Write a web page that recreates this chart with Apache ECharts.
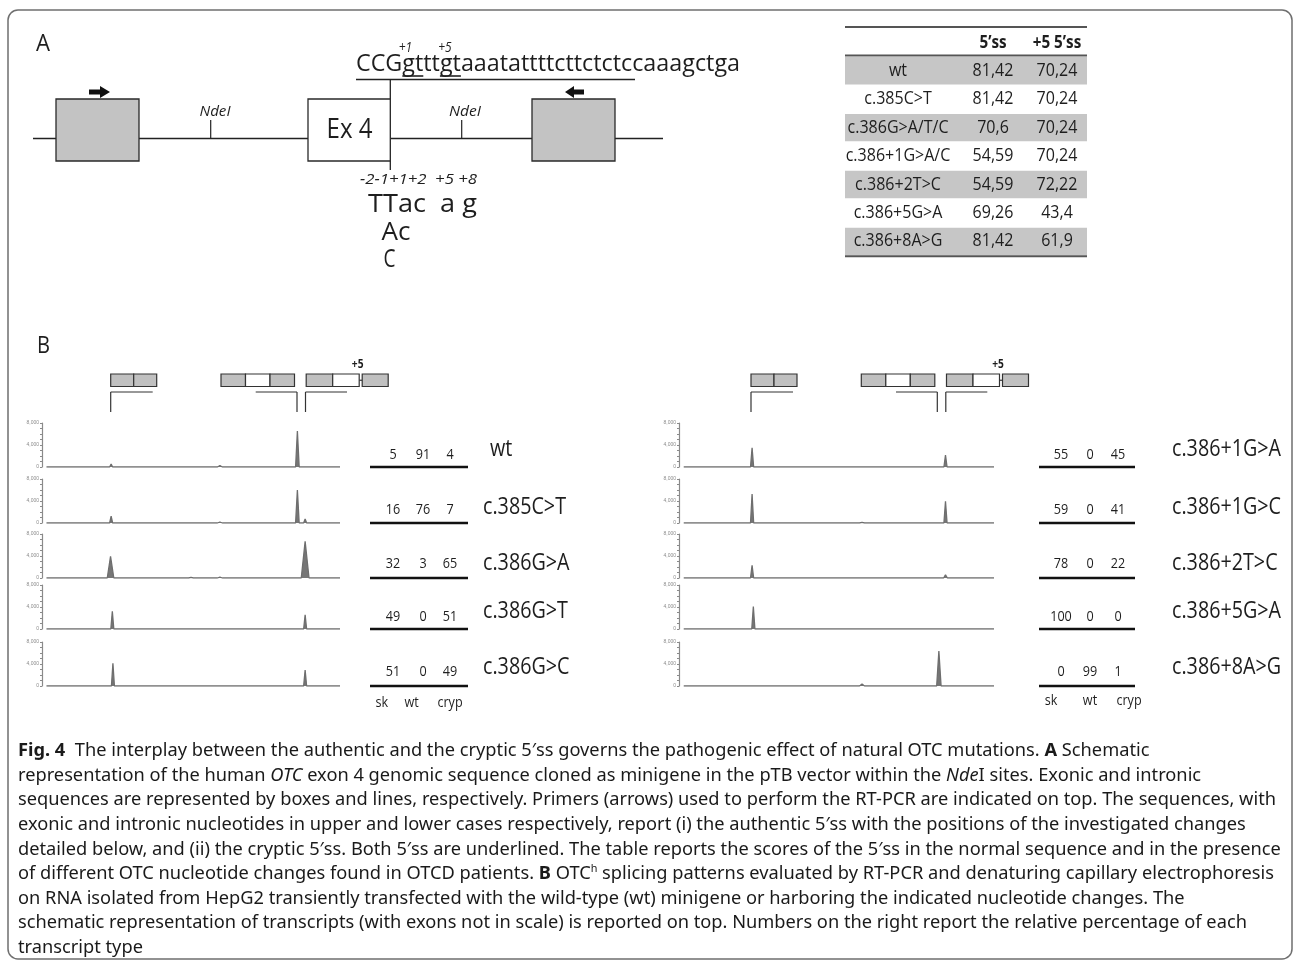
<!DOCTYPE html>
<html>
<head>
<meta charset="utf-8">
<script src="https://cdn.jsdelivr.net/npm/echarts@6/dist/echarts.min.js"></script>
<style>
  html, body { margin: 0; padding: 0; background: #fff; }
  #main { width: 1295px; height: 962px; }
</style>
</head>
<body>
<div id="main"></div>
<script>
// ---------------- data ----------------
// 5' splice-site scores, authentic 5'ss and cryptic +5 5'ss
const tableVariants = ['wt', 'c.385C>T', 'c.386G>A/T/C', 'c.386+1G>A/C', 'c.386+2T>C', 'c.386+5G>A', 'c.386+8A>G'];
const score5ss      = [81.42, 81.42, 70.6, 54.59, 54.59, 69.26, 81.42];
const scorePlus5    = [70.24, 70.24, 70.24, 70.24, 72.22, 43.4, 61.9];

// relative percentage of each transcript (sk, wt, cryp)
const percentColumns = ['sk', 'wt', 'cryp'];
const leftVariants  = ['wt', 'c.385C>T', 'c.386G>A', 'c.386G>T', 'c.386G>C'];
const leftPercents  = [[5, 91, 4], [16, 76, 7], [32, 3, 65], [49, 0, 51], [51, 0, 49]];
const rightVariants = ['c.386+1G>A', 'c.386+1G>C', 'c.386+2T>C', 'c.386+5G>A', 'c.386+8A>G'];
const rightPercents = [[55, 0, 45], [59, 0, 41], [78, 0, 22], [100, 0, 0], [0, 99, 1]];

// capillary electrophoresis peaks: [scan position, height (RFU), half width]
const leftPeaks = [
  [[23.2, 550, 0.5], [59.7, 270, 0.8], [85.7, 6550, 0.6], [88.3, 360, 0.5]],
  [[23.2, 1270, 0.5], [59.7, 180, 0.8], [85.7, 6000, 0.6], [88.3, 730, 0.5]],
  [[23.0, 3930, 1.1], [50.0, 120, 0.8], [59.7, 160, 0.8], [85.7, 360, 0.6], [88.3, 6650, 1.3]],
  [[23.6, 3220, 0.5], [88.3, 2600, 0.5]],
  [[23.8, 4130, 0.5], [88.3, 2910, 0.5]]
];
const rightPeaks = [
  [[23.2, 3510, 0.5], [84.6, 2180, 0.5]],
  [[23.2, 5280, 0.5], [58.1, 120, 0.8], [84.6, 3950, 0.5]],
  [[23.2, 2310, 0.5], [84.6, 600, 0.6]],
  [[23.6, 4060, 0.5]],
  [[58.1, 360, 0.8], [82.5, 6370, 0.7], [84.6, 180, 0.5]]
];
const yLabelValues = [0, 4000, 8000];

// caption lines (rich-text markup: b = bold, i = italic, s = superscript)
const captionLines = [
  '{b|Fig. 4}  The interplay between the authentic and the cryptic 5\u2032ss governs the pathogenic effect of natural OTC mutations. {b|A} Schematic',
  'representation of the human {i|OTC} exon 4 genomic sequence cloned as minigene in the pTB vector within the {i|Nde}I sites. Exonic and intronic',
  'sequences are represented by boxes and lines, respectively. Primers (arrows) used to perform the RT-PCR are indicated on top. The sequences, with',
  'exonic and intronic nucleotides in upper and lower cases respectively, report (i) the authentic 5\u2032ss with the positions of the investigated changes',
  'detailed below, and (ii) the cryptic 5\u2032ss. Both 5\u2032ss are underlined. The table reports the scores of the 5\u2032ss in the normal sequence and in the presence',
  'of different OTC nucleotide changes found in OTCD patients. {b|B} OTC{s|h} splicing patterns evaluated by RT-PCR and denaturing capillary electrophoresis',
  'on RNA isolated from HepG2 transiently transfected with the wild-type (wt) minigene or harboring the indicated nucleotide changes. The',
  'schematic representation of transcripts (with exons not in scale) is reported on top. Numbers on the right report the relative percentage of each',
  'transcript type'
];

// ---------------- helpers ----------------
const SANS = '"Open Sans", "Noto Sans", sans-serif';
const CAP = '"Noto Sans", "Open Sans", sans-serif';
const INK = '#1e1e1e';
const g = [];
const mctx = document.createElement('canvas').getContext('2d');

function measure(str, size, family, weight, style) {
  mctx.font = (style || 'normal') + ' ' + (weight || 'normal') + ' ' + size + 'px ' + family;
  return mctx.measureText(str).width;
}

function text(str, x, y, o) {
  o = o || {};
  const size = o.size || 14, family = o.family || SANS;
  const weight = o.weight || 'normal', fstyle = o.style || 'normal';
  const sx = o.fitW ? o.fitW / measure(str, size, family, weight, fstyle) : (o.sx || 1);
  g.push({
    type: 'text', x: x, y: y, scaleX: sx, silent: true, z: 10,
    style: {
      text: str, x: 0, y: 0,
      fontSize: size, fontFamily: family, fontWeight: weight, fontStyle: fstyle,
      fill: o.color || INK,
      align: o.align || 'left', textAlign: o.align || 'left',
      verticalAlign: 'middle', textVerticalAlign: 'middle'
    }
  });
  return sx;
}

function line(x1, y1, x2, y2, lw, color) {
  g.push({ type: 'line', silent: true, z: 5, shape: { x1: x1, y1: y1, x2: x2, y2: y2 },
    style: { stroke: color || '#222', lineWidth: lw || 1 } });
}

function rect(x, y, w, h, fill, stroke, lw, z) {
  g.push({ type: 'rect', silent: true, z: z || 4, shape: { x: x, y: y, width: w, height: h },
    style: { fill: fill, stroke: stroke || null, lineWidth: lw || 0 } });
}

// ---------------- frame ----------------
g.push({ type: 'rect', silent: true, z: 1, shape: { x: 8, y: 10, width: 1284, height: 949, r: 10 },
  style: { fill: 'none', stroke: '#6f6f6f', lineWidth: 1.5 } });

// ---------------- panel A: minigene scheme ----------------
text('A', 36, 44, { size: 23, fitW: 14 });

const seqExon = 'CCG', seqIntron = 'gtttgtaaatattttcttctctccaaagctga';
const seqSize = 24, seqX = 356, seqY = 64;
const seqSx = text(seqExon + seqIntron, seqX, seqY, { size: seqSize, fitW: 384 });
const px = s => seqX + measure(s, seqSize, SANS) * seqSx;
// underlined donor sites
line(px('CCG'), 76, px('CCGgt'), 76, 1.6);
line(px('CCGgttt'), 76, px('CCGgtttgt'), 76, 1.6);
text('+1', px('CCG') + 3, 48, { size: 14, style: 'italic', align: 'center', sx: 0.85 });
text('+5', px('CCGgttt') + 5, 48, { size: 14, style: 'italic', align: 'center', sx: 0.85 });
line(356, 79.5, 635, 79.5, 1.3);
line(390.3, 79.5, 390.3, 170, 1.3);

// backbone, exons, primers
line(33, 138.5, 663, 138.5, 1.3);
rect(56, 99, 83, 62, '#c3c3c3', '#2a2a2a', 1.3, 6);
rect(308, 99, 82.3, 62, '#ffffff', '#2a2a2a', 1.3, 6);
rect(532, 99, 83, 62, '#c3c3c3', '#2a2a2a', 1.3, 6);
text('Ex 4', 349.5, 130, { size: 27, align: 'center', fitW: 46 });
g.push({ type: 'polygon', silent: true, z: 6,
  shape: { points: [[89, 89.5], [100, 89.5], [100, 86], [110, 92], [100, 98], [100, 94.5], [89, 94.5]] },
  style: { fill: '#111' } });
g.push({ type: 'polygon', silent: true, z: 6,
  shape: { points: [[584, 89.5], [574, 89.5], [574, 86], [565, 92], [574, 98], [574, 94.5], [584, 94.5]] },
  style: { fill: '#111' } });
text('NdeI', 215, 112, { size: 15, style: 'italic', align: 'center', fitW: 31 });
line(210.7, 120, 210.7, 138.5, 1.2);
text('NdeI', 465, 112, { size: 15, style: 'italic', align: 'center', fitW: 32 });
line(461.7, 120, 461.7, 138.5, 1.2);

// investigated positions and substitutions
text('-2-1+1+2  +5 +8', 360, 180, { size: 15, style: 'italic', fitW: 117 });
text('TTac  a g', 368, 205, { size: 26, fitW: 109 });
text('Ac', 381.5, 233, { size: 26, fitW: 29 });
text('C', 383.5, 260, { size: 26, fitW: 12 });

// ---------------- panel A: score table ----------------
const tL = 845, tR = 1087, rowH = 28.45, rowTop = 56.5;
const colX = [898, 993, 1057];
const tSize = 17.5;
const tSx = 101 / measure('c.386G>A/T/C', tSize, SANS);
tableVariants.forEach((v, i) => {
  const y0 = rowTop + i * rowH;
  if (i % 2 === 0) rect(tL, y0 + 0.5, tR - tL, rowH - 1, '#c6c6c6', null, 0, 3);
  const cy = y0 + rowH / 2;
  text(v, colX[0], cy, { size: tSize, align: 'center', sx: tSx });
  text(String(score5ss[i]).replace('.', ','), colX[1], cy, { size: tSize, align: 'center', sx: tSx });
  text(String(scorePlus5[i]).replace('.', ','), colX[2], cy, { size: tSize, align: 'center', sx: tSx });
});
text('5\u2019ss', colX[1], 43, { size: tSize, weight: 'bold', align: 'center', sx: tSx * 0.95 });
text('+5 5\u2019ss', colX[2], 43, { size: tSize, weight: 'bold', align: 'center', sx: tSx * 0.95 });
line(tL, 27, tR, 27, 2, '#555');
line(tL, 55.5, tR, 55.5, 2, '#555');
line(tL, rowTop + 7 * rowH + 0.5, tR, rowTop + 7 * rowH + 0.5, 2, '#555');

// ---------------- panel B ----------------
text('B', 37, 346, { size: 23, fitW: 13 });

// transcript cartoons and brackets over the traces
function transcripts(bx) {
  const y = 374, h = 12.5, grey = '#c0c0c0';
  rect(bx, y, 23, h, grey, '#333', 1.2, 6);
  rect(bx + 23, y, 23, h, grey, '#333', 1.2, 6);
  rect(bx + 110.3, y, 24.5, h, grey, '#333', 1.2, 6);
  rect(bx + 134.8, y, 24.5, h, '#fff', '#333', 1.2, 6);
  rect(bx + 159.3, y, 24.5, h, grey, '#333', 1.2, 6);
  rect(bx + 195.5, y, 26.5, h, grey, '#333', 1.2, 6);
  rect(bx + 222, y, 26.5, h, '#fff', '#333', 1.2, 6);
  line(bx + 248.5, y + h / 2, bx + 251.5, y + h / 2, 1.2, '#333');
  rect(bx + 251.5, y, 26, h, grey, '#333', 1.2, 6);
  text('+5', bx + 247, 365, { size: 12, weight: 'bold', align: 'center', sx: 0.85 });
  const by = 392, bb = 412;
  line(bx, by, bx + 42, by, 1.2, '#333');
  line(bx, by, bx, bb, 1.2, '#333');
  line(bx + 145, by, bx + 186.3, by, 1.2, '#333');
  line(bx + 186.3, by, bx + 186.3, bb, 1.2, '#333');
  line(bx + 194.8, by, bx + 194.8, bb, 1.2, '#333');
  line(bx + 194.8, by, bx + 236.3, by, 1.2, '#333');
}
transcripts(110.7);
transcripts(751);

const rowBase = [467, 523, 578, 629, 686];
const rowNum  = [455, 510, 564, 617, 672];
const rowLab  = [449, 507, 563, 611, 667];
const plotH = 44;
const labSize = 23;
const labSx = 83 / measure('c.385C>T', labSize, SANS);

const grids = [], xAxes = [], yAxes = [], series = [];
function addTrace(peaks, left, width, base) {
  const idx = grids.length;
  grids.push({ left: left, width: width, top: base - plotH, height: plotH, outerBoundsMode: 'none', containLabel: false });
  xAxes.push({ type: 'value', gridIndex: idx, min: 0, max: 100, show: false });
  yAxes.push({
    type: 'value', gridIndex: idx, min: 0, max: 8000, interval: 1000,
    axisLine: { show: true, lineStyle: { color: '#8a8a8a', width: 1.2 } },
    axisTick: { show: true, length: 2, lineStyle: { color: '#8a8a8a' } },
    splitLine: { show: false },
    axisLabel: { fontSize: 5, color: '#8a8a8a', margin: 3,
      formatter: v => yLabelValues.indexOf(v) >= 0 ? v.toLocaleString('en-US') : '' }
  });
  const pts = [[1.5, 0]];
  peaks.slice().sort((a, b) => a[0] - b[0]).forEach(p => {
    pts.push([p[0] - p[2], 0], [p[0], p[1]], [p[0] + p[2], 0]);
  });
  pts.push([100, 0]);
  series.push({
    type: 'line', xAxisIndex: idx, yAxisIndex: idx, data: pts,
    showSymbol: false, symbol: 'none', silent: true, animation: false,
    lineStyle: { color: '#6e6e6e', width: 1.3 },
    areaStyle: { color: '#767676', opacity: 1 }
  });
}

function percentBlock(vals, cols, ulX1, ulX2, i) {
  vals.forEach((v, k) => text(String(v), cols[k], rowNum[i], { size: 14, align: 'center', sx: 0.9 }));
  line(ulX1, rowBase[i], ulX2, rowBase[i], 2.6, '#111');
}

leftPeaks.forEach((pk, i) => {
  addTrace(pk, 42, 298, rowBase[i]);
  percentBlock(leftPercents[i], [393, 423, 450], 370, 468, i);
  text(leftVariants[i], i === 0 ? 490 : 483, rowLab[i], { size: labSize, sx: labSx });
});
rightPeaks.forEach((pk, i) => {
  addTrace(pk, 679, 315, rowBase[i]);
  percentBlock(rightPercents[i], [1061, 1090, 1118], 1039, 1135, i);
  text(rightVariants[i], 1172, rowLab[i], { size: labSize, sx: labSx });
});
[381.7, 411.6, 450].forEach((x, k) => text(percentColumns[k], x, 703, { size: 14, align: 'center', sx: 0.9 }));
[1051, 1090, 1129].forEach((x, k) => text(percentColumns[k], x, 701, { size: 14, align: 'center', sx: 0.9 }));

// ---------------- caption ----------------
const capSize = 18.5;
function richWidth(str) {
  let w = 0;
  const re = /\{(\w)\|([^}]*)\}|([^{]+)/g;
  let m;
  while ((m = re.exec(str))) {
    if (m[3]) w += measure(m[3], capSize, CAP);
    else if (m[1] === 'b') w += measure(m[2], capSize, CAP, 'bold');
    else if (m[1] === 'i') w += measure(m[2], capSize, CAP, 'normal', 'italic');
    else w += measure(m[2], 11, CAP);
  }
  return w;
}
const capSx = 1258 / richWidth(captionLines[2]);
captionLines.forEach((ln, k) => {
  g.push({
    type: 'text', x: 18, y: 751 + k * 24.6, scaleX: capSx, silent: true, z: 10,
    style: {
      text: ln, x: 0, y: 0, fontSize: capSize, fontFamily: CAP, fill: '#1a1a1a',
      lineHeight: 22, align: 'left', textAlign: 'left', verticalAlign: 'middle', textVerticalAlign: 'middle',
      rich: {
        b: { fontWeight: 'bold', fontSize: capSize, fontFamily: CAP, lineHeight: 22 },
        i: { fontStyle: 'italic', fontSize: capSize, fontFamily: CAP, lineHeight: 22 },
        s: { fontSize: 11, fontFamily: CAP, lineHeight: 22, verticalAlign: 'top', padding: [0, 0, 8, 0] }
      }
    }
  });
});

// ---------------- render ----------------
const chart = echarts.init(document.getElementById('main'), null, { renderer: 'canvas' });
chart.setOption({
  animation: false,
  backgroundColor: '#ffffff',
  grid: grids,
  xAxis: xAxes,
  yAxis: yAxes,
  series: series,
  graphic: { elements: g }
});
</script>
</body>
</html>
